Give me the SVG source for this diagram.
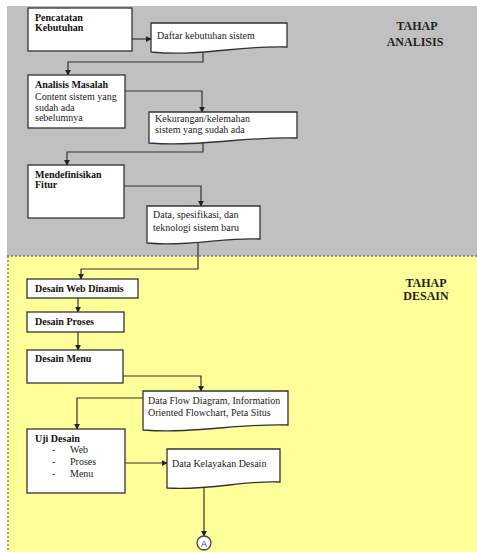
<svg xmlns="http://www.w3.org/2000/svg" width="477" height="552" viewBox="0 0 477 552">
<defs>
<style>
.box{fill:#fff;stroke:#333;stroke-width:1.3}
.doc{fill:#fff;stroke:#333;stroke-width:1.3}
.ln{fill:none;stroke:#333;stroke-width:1.2}
.t{font-family:"Liberation Serif","Times New Roman",serif;font-size:10px;fill:#222}
.b{font-family:"Liberation Serif","Times New Roman",serif;font-size:10px;font-weight:bold;fill:#111}
.h{font-family:"Liberation Serif","Times New Roman",serif;font-size:12px;font-weight:bold;fill:#222;text-anchor:middle}
</style>
<marker id="ah" viewBox="0 0 8 8" refX="7" refY="4" markerWidth="5" markerHeight="5" orient="auto">
<path d="M0,0 L8,4 L0,8 Z" fill="#222"/>
</marker>
</defs>
<rect x="0" y="0" width="477" height="552" fill="#fff"/>
<g id="zone-analisis">
<rect x="7" y="6" width="470" height="250" fill="#c0c0c0"/>
<text class="h" x="417" y="30">TAHAP</text>
<text class="h" x="415" y="46">ANALISIS</text>
</g>
<g id="zone-desain">
<rect x="7" y="256" width="470" height="296" fill="#ffff99"/>
<line x1="7" y1="256" x2="477" y2="256" stroke="#777" stroke-width="1.3" stroke-dasharray="2,2"/>
<line x1="8" y1="256" x2="8" y2="552" stroke="#777" stroke-width="1.3" stroke-dasharray="2,2"/>
<text class="h" x="426" y="287">TAHAP</text>
<text class="h" x="426" y="300">DESAIN</text>
</g>
<g id="connectors">
<path class="ln" d="M132,39 H151" marker-end="url(#ah)"/>
<path class="ln" d="M203,50 V62 H68 V75" marker-end="url(#ah)"/>
<path class="ln" d="M125,91 H202 V112" marker-end="url(#ah)"/>
<path class="ln" d="M203,140 V152 H67 V165" marker-end="url(#ah)"/>
<path class="ln" d="M124,186 H201 V206" marker-end="url(#ah)"/>
<path class="ln" d="M198,241 V269 H81 V279" marker-end="url(#ah)"/>
<path class="ln" d="M78,298 V312" marker-end="url(#ah)"/>
<path class="ln" d="M78,332 V350" marker-end="url(#ah)"/>
<path class="ln" d="M123,376 H201 V391" marker-end="url(#ah)"/>
<path class="ln" d="M143,398 H77 V429" marker-end="url(#ah)"/>
<path class="ln" d="M125,463 H167" marker-end="url(#ah)"/>
<path class="ln" d="M204,486 V536" marker-end="url(#ah)"/>
</g>
<g id="pencatatan">
<rect class="box" x="28" y="8" width="104" height="43"/>
<text class="b" x="35" y="21">Pencatatan</text>
<text class="b" x="35" y="31">Kebutuhan</text>
</g>
<g id="daftar">
<path class="doc" d="M151,23 H287 V47 C240,45 200,57 151,52 Z"/>
<text class="t" x="157" y="39">Daftar kebutuhan sistem</text>
</g>
<g id="analisis">
<rect class="box" x="28" y="75" width="97" height="53"/>
<text class="b" x="35" y="88">Analisis Masalah</text>
<text class="t" x="35" y="100">Content sistem yang</text>
<text class="t" x="35" y="111">sudah ada</text>
<text class="t" x="35" y="121">sebelumnya</text>
</g>
<g id="kekurangan">
<path class="doc" d="M149,112 H297 V138 C250,136 200,147 149,143 Z"/>
<text class="t" x="155" y="122">Kekurangan/kelemahan</text>
<text class="t" x="155" y="133">sistem yang sudah ada</text>
</g>
<g id="mendefinisikan">
<rect class="box" x="28" y="165" width="96" height="53"/>
<text class="b" x="35" y="178">Mendefinisikan</text>
<text class="b" x="35" y="188">Fitur</text>
</g>
<g id="data-spesifikasi">
<path class="doc" d="M147,206 H260 V239 C225,237 190,247 147,243 Z"/>
<text class="t" x="153" y="218">Data, spesifikasi, dan</text>
<text class="t" x="153" y="231">teknologi sistem baru</text>
</g>
<g id="desain-web">
<rect class="box" x="27" y="279" width="111" height="19"/>
<text class="b" x="35" y="292">Desain Web Dinamis</text>
</g>
<g id="desain-proses">
<rect class="box" x="27" y="312" width="97" height="20"/>
<text class="b" x="35" y="325">Desain Proses</text>
</g>
<g id="desain-menu">
<rect class="box" x="27" y="350" width="96" height="33"/>
<text class="b" x="35" y="362">Desain Menu</text>
</g>
<g id="dfd">
<path class="doc" d="M143,391 H288 V425 C240,423 195,434 143,430 Z"/>
<text class="t" x="148" y="404">Data Flow Diagram, Information</text>
<text class="t" x="148" y="416">Oriented Flowchart, Peta Situs</text>
</g>
<g id="uji-desain">
<rect class="box" x="27" y="429" width="98" height="64"/>
<text class="b" x="35" y="442">Uji Desain</text>
<text class="t" x="52" y="453">-</text><text class="t" x="70" y="453">Web</text>
<text class="t" x="52" y="465">-</text><text class="t" x="70" y="465">Proses</text>
<text class="t" x="52" y="477">-</text><text class="t" x="70" y="477">Menu</text>
</g>
<g id="kelayakan">
<path class="doc" d="M167,449 H280 V482 C245,480 208,491 167,488 Z"/>
<text class="t" x="172" y="467">Data Kelayakan Desain</text>
</g>
<g id="connector-a">
<circle cx="204" cy="543" r="7" fill="#fff" stroke="#445" stroke-width="1.3"/>
<text x="204" y="546.5" text-anchor="middle" font-family="Liberation Sans, Arial, sans-serif" font-size="9" fill="#335">A</text>
</g>
</svg>
